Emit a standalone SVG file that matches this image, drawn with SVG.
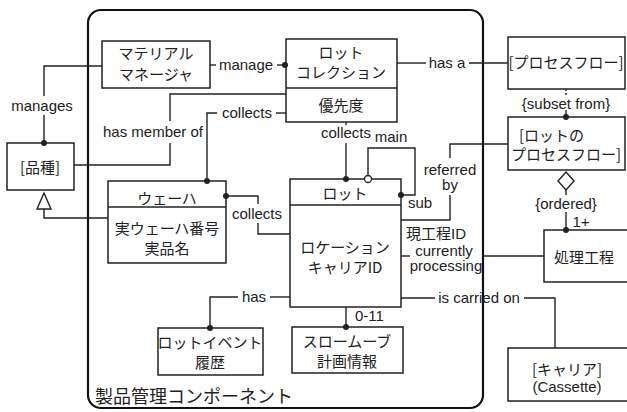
<svg xmlns="http://www.w3.org/2000/svg" width="627" height="412" viewBox="0 0 627 412">
<style>
.box{fill:#fff;stroke:#222;stroke-width:1.5}
.ln{fill:none;stroke:#222;stroke-width:1.4}
.jp{font-family:"Noto Sans CJK JP","Liberation Sans",sans-serif;font-size:15px;fill:#222;text-anchor:middle}
.en{font-family:"Liberation Sans",Arial,sans-serif;font-size:15px;fill:#222;text-anchor:middle}
.dot{fill:#222}
</style>
<rect width="627" height="412" fill="#fff"/>
<g id="component">
<rect x="88" y="10" width="395" height="398" rx="13" fill="none" stroke="#111" stroke-width="2.2"/>
<text x="95" y="403" style="font-family:'Noto Sans CJK JP',sans-serif;font-size:18px;fill:#222">製品管理コンポーネント</text>
</g>
<g id="material-manager">
<rect class="box" x="102" y="41" width="108" height="47"/>
<text class="jp" x="156" y="59">マテリアル</text>
<text class="jp" x="156" y="80">マネージャ</text>
</g>
<g id="lot-collection">
<rect class="box" x="286" y="39" width="111" height="83"/>
<line class="ln" x1="286" y1="88" x2="397" y2="88"/>
<text class="jp" x="341" y="58">ロット</text>
<text class="jp" x="341" y="78">コレクション</text>
<text class="jp" x="341" y="111">優先度</text>
</g>
<g id="process-flow">
<rect class="box" x="508" y="37" width="117" height="52"/>
<text class="jp" x="566" y="68">[プロセスフロー]</text>
</g>
<g id="lot-process-flow">
<rect class="box" x="508" y="117" width="117" height="53"/>
<text class="jp" x="519" y="141" style="text-anchor:start">[ロットの</text>
<text class="jp" x="566" y="160">プロセスフロー]</text>
</g>
<g id="hinshu">
<rect class="box" x="7" y="143" width="67" height="47"/>
<text class="jp" x="40" y="173">[品種]</text>
</g>
<g id="wafer">
<rect class="box" x="108" y="181" width="118" height="82"/>
<line class="ln" x1="108" y1="207" x2="226" y2="207"/>
<text class="jp" x="167" y="204">ウェーハ</text>
<text class="jp" x="167" y="234">実ウェーハ番号</text>
<text class="jp" x="167" y="254">実品名</text>
</g>
<g id="lot">
<rect class="box" x="290" y="179" width="111" height="128"/>
<line class="ln" x1="290" y1="205" x2="401" y2="205"/>
<text class="jp" x="345" y="199">ロット</text>
<text class="jp" x="345" y="253">ロケーション</text>
<text class="jp" x="345" y="273">キャリアID</text>
</g>
<g id="process-step">
<rect class="box" x="544" y="230" width="90" height="52"/>
<text class="jp" x="584" y="263">処理工程</text>
</g>
<g id="carrier">
<rect class="box" x="508" y="348" width="122" height="53"/>
<text class="jp" x="567" y="375">[キャリア]</text>
<text class="en" x="567" y="392">(Cassette)</text>
</g>
<g id="lot-event">
<rect class="box" x="158" y="328" width="105" height="47"/>
<text class="jp" x="210" y="348">ロットイベント</text>
<text class="jp" x="210" y="368">履歴</text>
</g>
<g id="slow-move">
<rect class="box" x="292" y="327" width="111" height="46"/>
<text class="jp" x="347" y="347">スロームーブ</text>
<text class="jp" x="347" y="367">計画情報</text>
</g>
<g id="connectors">
<polyline class="ln" points="102,66 44,66 44,96"/>
<line class="ln" x1="44" y1="115" x2="44" y2="143"/>
<circle class="dot" cx="44" cy="143" r="3"/>
<text class="en" x="42" y="111">manages</text>
<polyline class="ln" points="44,209 44,218 108,218"/>
<polygon points="44,193 37,209 51,209" fill="#fff" stroke="#222" stroke-width="1.4"/>
<line class="ln" x1="210" y1="65" x2="216" y2="65"/>
<line class="ln" x1="277" y1="65" x2="286" y2="65"/>
<circle class="dot" cx="285" cy="65" r="3"/>
<text class="en" x="246" y="70">manage</text>
<polyline class="ln" points="286,94 170,94 170,121"/>
<polyline class="ln" points="170,143 170,165 74,165"/>
<text class="en" x="153" y="137">has member of</text>
<line class="ln" x1="276" y1="113" x2="286" y2="113"/>
<polyline class="ln" points="217,113 207,113 207,181"/>
<circle class="dot" cx="207" cy="181" r="3"/>
<text class="en" x="247" y="118">collects</text>
<line class="ln" x1="397" y1="63" x2="426" y2="63"/>
<line class="ln" x1="469" y1="63" x2="508" y2="63"/>
<text class="en" x="447" y="68">has a</text>
<line class="ln" x1="566" y1="89" x2="566" y2="95" stroke-dasharray="2,2"/>
<line class="ln" x1="566" y1="110" x2="566" y2="117"/>
<circle class="dot" cx="566" cy="117" r="3"/>
<text class="en" x="566" y="109">{subset from}</text>
<polygon points="566,172 574,181 566,190 558,181" fill="#fff" stroke="#222" stroke-width="1.4"/>
<line class="ln" x1="566" y1="190" x2="566" y2="195"/>
<line class="ln" x1="566" y1="212" x2="566" y2="230"/>
<circle class="dot" cx="566" cy="230" r="3"/>
<text class="en" x="566" y="209">{ordered}</text>
<text class="en" x="581" y="227">1+</text>
<line class="ln" x1="346" y1="122" x2="346" y2="125"/>
<line class="ln" x1="346" y1="143" x2="346" y2="179"/>
<circle class="dot" cx="346" cy="179" r="3"/>
<text class="en" x="346" y="138">collects</text>
<polyline class="ln" points="368,175.5 368,148 415,148 415,195 401,195"/>
<circle cx="368" cy="179" r="3.5" fill="#fff" stroke="#222" stroke-width="1.3"/>
<circle class="dot" cx="401" cy="195" r="3"/>
<text class="en" x="391" y="142">main</text>
<text class="en" x="420" y="208">sub</text>
<polyline class="ln" points="508,144 450,144 450,158"/>
<polyline class="ln" points="450,195 450,220 401,220"/>
<text class="en" x="450" y="175">referred</text>
<text class="en" x="450" y="190">by</text>
<line class="ln" x1="401" y1="256" x2="410" y2="256"/>
<line class="ln" x1="483" y1="256" x2="544" y2="256"/>
<text x="406" y="239" style="font-family:'Liberation Sans','Noto Sans CJK JP',sans-serif;font-size:15px;fill:#222">現工程ID</text>
<text class="en" x="444" y="256">currently</text>
<text class="en" x="446" y="271">processing</text>
<line class="ln" x1="401" y1="298" x2="435" y2="298"/>
<polyline class="ln" points="524,298 555,298 555,348"/>
<text class="en" x="479" y="303">is carried on</text>
<line class="ln" x1="346" y1="307" x2="346" y2="327"/>
<circle class="dot" cx="346" cy="327" r="3"/>
<text x="355" y="321" style="font-family:'Liberation Sans',sans-serif;font-size:15px;fill:#222">0-11</text>
<line class="ln" x1="270" y1="297" x2="290" y2="297"/>
<polyline class="ln" points="238,297 210,297 210,328"/>
<circle class="dot" cx="210" cy="328" r="3"/>
<text class="en" x="254" y="302">has</text>
<polyline class="ln" points="226,196 258,196 258,204"/>
<polyline class="ln" points="258,223 258,234 290,234"/>
<circle class="dot" cx="226" cy="196" r="3"/>
<text class="en" x="257" y="219">collects</text>
</g>
</svg>
